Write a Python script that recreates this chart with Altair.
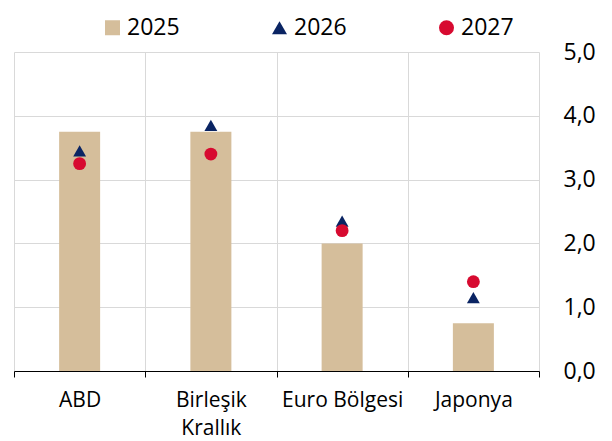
import altair as alt
import pandas as pd

categories = ["ABD", "Birleşik Krallık", "Euro Bölgesi", "Japonya"]
years = ["2025", "2026", "2027"]
v2025 = [3.75, 3.75, 2.0, 0.75]
v2026 = [3.45, 3.85, 2.35, 1.15]
v2027 = [3.25, 3.4, 2.2, 1.4]
y_ticks = [0, 1, 2, 3, 4, 5]
colors = ["#D5BE9B", "#0A2463", "#D70A30"]
shapes = ["square", "triangle-up", "circle"]

rows = []
for yr, vals in zip(years, [v2025, v2026, v2027]):
    for c, v in zip(categories, vals):
        rows.append({"cat": c, "year": yr, "value": v})
df = pd.DataFrame(rows)

FONT = "Open Sans"

x = alt.X(
    "cat:N",
    sort=categories,
    title=None,
    scale=alt.Scale(paddingInner=0, paddingOuter=0),
    axis=alt.Axis(
        tickBand="extent",
        grid=True,
        gridColor="#D9D9D9",
        gridWidth=1,
        domainColor="#000000",
        tickColor="#000000",
        tickSize=6,
        labelAngle=0,
        labelFontSize=21,
        labelFont=FONT,
        labelColor="#000000",
        labelPadding=12,
        labelLineHeight=28,
        labelExpr="datum.label == 'Birleşik Krallık' ? ['Birleşik', 'Krallık'] : datum.label",
    ),
)

y = alt.Y(
    "value:Q",
    title=None,
    scale=alt.Scale(domain=[0, 5], nice=False),
    axis=alt.Axis(
        orient="right",
        values=y_ticks,
        labelExpr="replace(format(datum.value, '.1f'), '.', ',')",
        domain=False,
        ticks=False,
        grid=True,
        gridColor="#D9D9D9",
        gridWidth=1,
        labelFontSize=23,
        labelFont=FONT,
        labelColor="#000000",
        labelPadding=24,
        labelAlign="left",
    ),
)

legend = alt.Legend(
    title=None,
    orient="none",
    direction="horizontal",
    legendX=87,
    legendY=-36,
    labelFontSize=23,
    labelFont=FONT,
    labelColor="#000000",
    symbolSize=225,
    symbolStrokeWidth=0,
    columnPadding=88,
    labelOffset=3,
)

color = alt.Color("year:N", scale=alt.Scale(domain=years, range=colors), legend=legend)
shape = alt.Shape("year:N", scale=alt.Scale(domain=years, range=shapes), legend=legend)

bars = alt.Chart(df).transform_filter("datum.year == '2025'").mark_bar(size=41).encode(
    x=x, y=y, color=color
)
points = alt.Chart(df).transform_filter("datum.year != '2025'").mark_point(
    filled=True, size=165, opacity=1
).encode(x=x, y=y, color=color, shape=shape)

chart = (
    alt.layer(bars, points)
    .properties(width=525, height=319, padding={"left": 5, "top": 8, "right": 5, "bottom": 5})
    .configure_view(stroke=None)
)

chart.save("out.html", embed_options={"renderer": "svg", "actions": False})
